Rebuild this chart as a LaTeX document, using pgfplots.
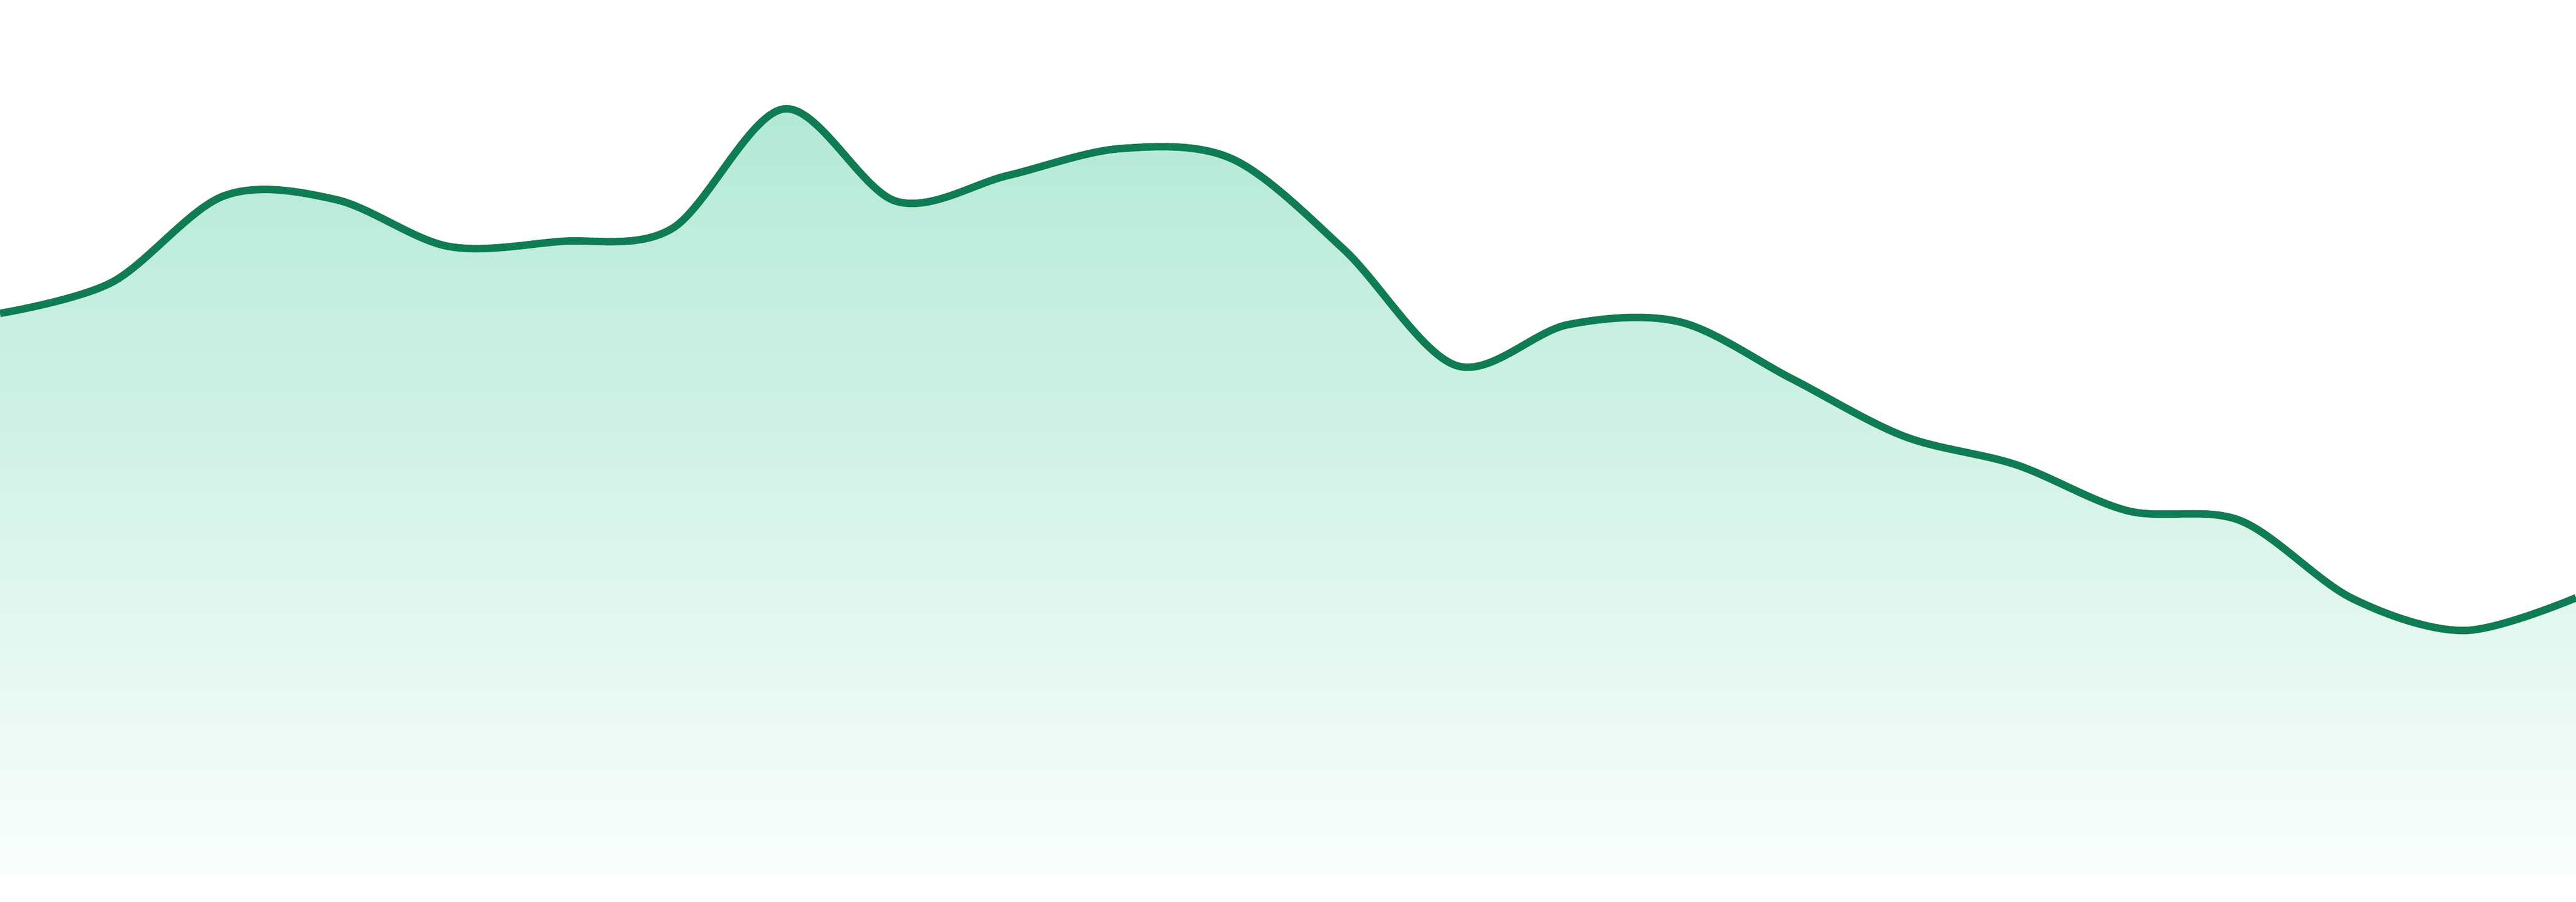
\documentclass[border=0pt]{standalone}
\usepackage{pgfplots}
\usepackage{pgfplotstable}
\pgfplotsset{compat=1.18}
\definecolor{linec}{HTML}{107C53}
\definecolor{emer}{HTML}{10B981}
\pgfplotstableread{
x y
0 1048
208.7 1106
417.4 1267
626.1 1260
834.8 1173
1043.5 1182
1252.2 1206
1460.9 1429
1669.6 1257
1878.3 1305
2087.0 1355
2295.7 1336
2504.3 1167
2713.0 951
2921.7 1027
3130.4 1032
3339.1 926
3547.8 819
3756.5 766
3965.2 680
4173.9 662
4382.6 517
4591.3 457
4800 518
}\datatable
\begin{document}
\begin{tikzpicture}
\begin{axis}[
  width=48cm, height=16.8cm, scale only axis,
  xmin=0, xmax=4800, ymin=-48, ymax=1632,
  hide axis, clip=true,
]
\addplot[draw=none, top color=emer!32!white, bottom color=emer!2!white, smooth, tension=0.55] table {\datatable} \closedcycle;
\addplot[linec, line width=1.4mm, smooth, tension=0.55] table {\datatable};
\draw[draw=none] (rel axis cs:0,0) rectangle (rel axis cs:1,1);
\end{axis}
\end{tikzpicture}
\end{document}
